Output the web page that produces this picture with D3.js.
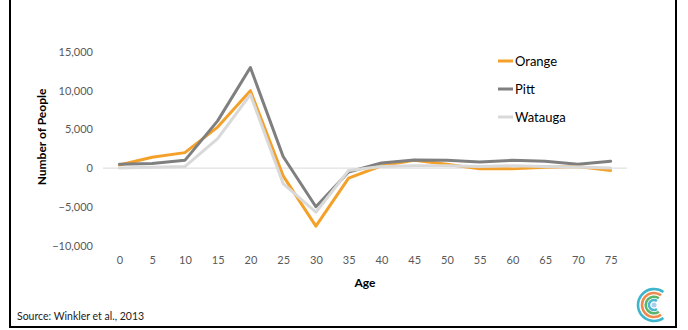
<!DOCTYPE html>
<html>
<head>
<meta charset="utf-8">
<script src="https://cdn.jsdelivr.net/npm/d3@7"></script>
<style>
  html, body { margin: 0; padding: 0; background: #fff; }
  svg { display: block; }
  text { font-family: Lato, "Open Sans", sans-serif; }
</style>
</head>
<body>
<svg id="chart" width="688" height="330"></svg>
<script>
const ages = [0, 5, 10, 15, 20, 25, 30, 35, 40, 45, 50, 55, 60, 65, 70, 75];
const orange = [400, 1400, 2000, 5300, 10000, -1000, -7500, -1300, 300, 1000, 500, -100, -100, 100, 200, -300];
const pitt = [500, 600, 1000, 6100, 13000, 1500, -5000, -500, 650, 1050, 1000, 800, 1000, 900, 500, 900];
const watauga = [0, 100, 200, 3800, 9500, -2000, -5700, -300, 200, 300, 300, 200, 300, 200, 150, 0];
const yTicks = [-10000, -5000, 0, 5000, 10000, 15000];
const seriesNames = ["Orange", "Pitt", "Watauga"];
const seriesColors = ["#F4A12B", "#7F7F7F", "#D9D9D9"];

const series = [orange, pitt, watauga].map((vals, i) => ({
  name: seriesNames[i], color: seriesColors[i], values: vals
}));

const svg = d3.select("#chart");

const x = d3.scalePoint().domain(ages).range([103, 627]).padding(0.5);
const y = d3.scaleLinear().domain([-10000, 15000]).range([245.5, 52]);

// frame
svg.append("line").attr("x1", 10).attr("x2", 10).attr("y1", 0).attr("y2", 328)
  .attr("stroke", "#000").attr("stroke-width", 2);
svg.append("line").attr("x1", 676).attr("x2", 676).attr("y1", 0).attr("y2", 328)
  .attr("stroke", "#000").attr("stroke-width", 2);
svg.append("line").attr("x1", 9).attr("x2", 677).attr("y1", 327).attr("y2", 327)
  .attr("stroke", "#000").attr("stroke-width", 2);

// zero line
svg.append("line").attr("x1", 103).attr("x2", 627).attr("y1", y(0)).attr("y2", y(0))
  .attr("stroke", "#D9D9D9").attr("stroke-width", 1);

// y axis
const yAxis = d3.axisLeft(y).tickValues(yTicks).tickSize(0).tickPadding(0)
  .tickFormat(d3.format(","));
const yg = svg.append("g").attr("transform", "translate(93,0)").call(yAxis);
yg.select(".domain").remove();
yg.selectAll("text").attr("fill", "#595959").attr("font-size", 11)
  .attr("font-family", "Lato, 'Open Sans', sans-serif");

// x axis
const xAxis = d3.axisBottom(x).tickSize(0).tickPadding(0);
const xg = svg.append("g").attr("transform", "translate(0,256)").call(xAxis);
xg.select(".domain").remove();
xg.selectAll("text").attr("fill", "#595959").attr("font-size", 11)
  .attr("font-family", "Lato, 'Open Sans', sans-serif");

// lines
const line = d3.line().x((d, i) => x(ages[i])).y(d => y(d));
series.forEach(s => {
  svg.append("path").datum(s.values).attr("d", line)
    .attr("fill", "none").attr("stroke", s.color).attr("stroke-width", 3)
    .attr("stroke-linejoin", "round").attr("stroke-linecap", "round");
});

// legend
const legY = [61, 89, 117];
series.forEach((s, i) => {
  svg.append("line").attr("x1", 498).attr("x2", 513).attr("y1", legY[i]).attr("y2", legY[i])
    .attr("stroke", s.color).attr("stroke-width", 3);
  svg.append("text").attr("x", 515).attr("y", legY[i]).attr("dy", "0.35em")
    .attr("font-size", 13).attr("fill", "#000").text(s.name);
});

// axis titles
svg.append("text").attr("x", 365).attr("y", 287).attr("text-anchor", "middle")
  .attr("font-size", 12).attr("font-weight", "bold").attr("fill", "#000").text("Age");
svg.append("text").attr("transform", "translate(46,137) rotate(-90)")
  .attr("text-anchor", "middle").attr("font-size", 12).attr("font-weight", "bold")
  .attr("fill", "#000").text("Number of People");

// source
svg.append("text").attr("x", 17).attr("y", 320).attr("font-size", 10.5)
  .attr("fill", "#222").text("Source: Winkler et al., 2013");

// logo (C-shapes opening to the right)
const logo = svg.append("g").attr("transform", "translate(654,305)");
const arcs = [
  { r: 16, c: "#3DB6CC" },
  { r: 12, c: "#EE8A4C" },
  { r: 8.3, c: "#5CB56A" },
  { r: 5, c: "#4BB8D0" }
];
arcs.forEach(a => {
  logo.append("path")
    .attr("d", d3.arc().innerRadius(a.r - 1.3).outerRadius(a.r + 1.3)
      .startAngle(0.8 * Math.PI).endAngle(2.2 * Math.PI)())
    .attr("fill", a.c);
});
logo.append("circle").attr("r", 2.5).attr("fill", "#A9CFEA");
</script>
</body>
</html>
